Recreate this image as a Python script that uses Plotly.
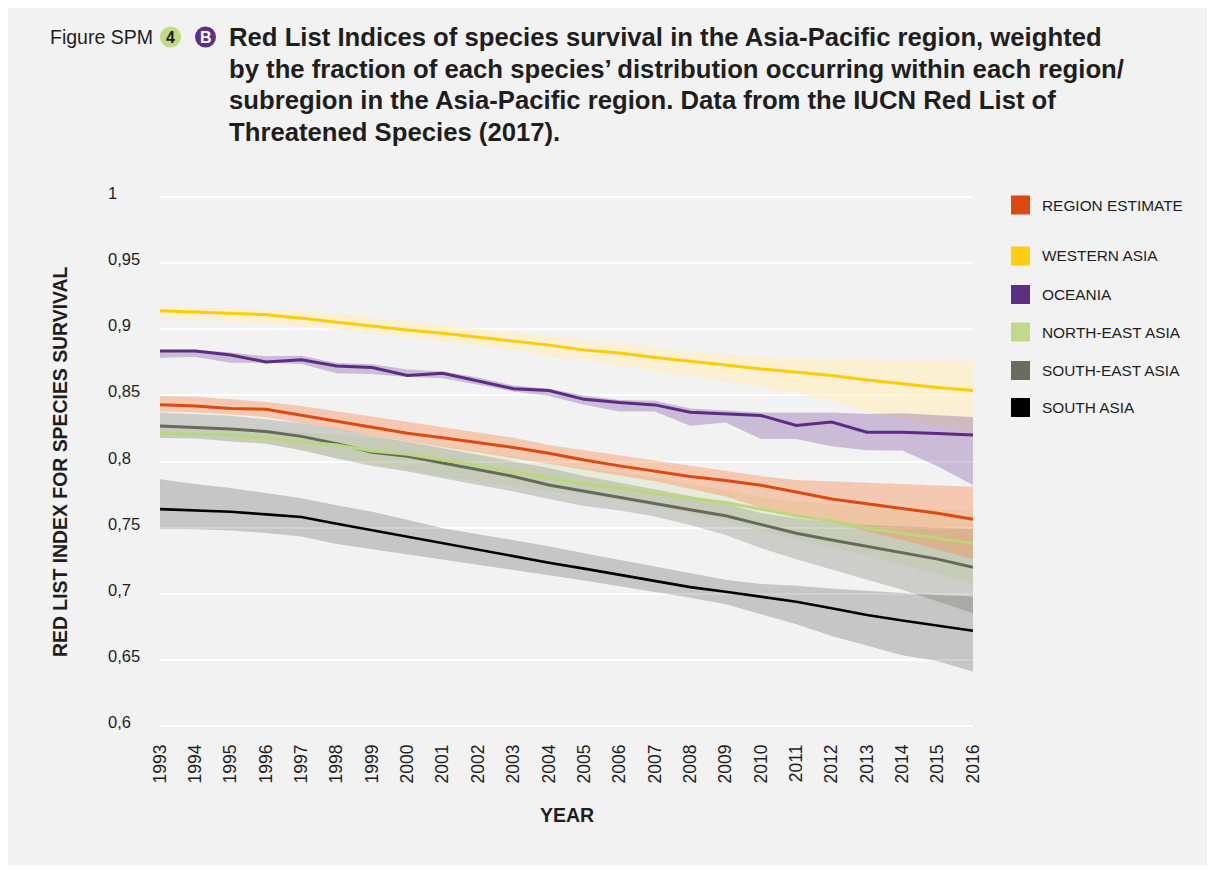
import plotly.graph_objects as go

# ---------------- data ----------------
years = list(range(1993, 2017))
year_labels = [str(y) for y in years]

y_tick_vals = [0.6, 0.65, 0.7, 0.75, 0.8, 0.85, 0.9, 0.95, 1.0]
y_tick_text = ["0,6", "0,65", "0,7", "0,75", "0,8", "0,85", "0,9", "0,95", "1"]

region = [0.843, 0.842, 0.840, 0.8395, 0.835, 0.8305, 0.8258, 0.8214, 0.818, 0.8144, 0.8106, 0.8063,
          0.8012, 0.7967, 0.7925, 0.7887, 0.7857, 0.782, 0.777, 0.7717, 0.768, 0.7646, 0.7608, 0.7563]
region_hi = [0.8496, 0.849, 0.847, 0.845, 0.842, 0.838, 0.834, 0.8295, 0.826, 0.822, 0.818, 0.8125,
             0.8085, 0.805, 0.801, 0.797, 0.793, 0.789, 0.786, 0.785, 0.784, 0.783, 0.782, 0.781]
region_lo = [0.8378, 0.837, 0.8355, 0.8335, 0.829, 0.8245, 0.8195, 0.815, 0.811, 0.807, 0.8025, 0.798,
             0.794, 0.7895, 0.785, 0.779, 0.7735, 0.765, 0.760, 0.7545, 0.747, 0.7407, 0.7331, 0.726]

western = [0.914, 0.913, 0.912, 0.911, 0.9083, 0.9053, 0.9025, 0.8995, 0.897, 0.894, 0.891, 0.888,
           0.8843, 0.882, 0.8787, 0.8756, 0.873, 0.870, 0.8673, 0.865, 0.8617, 0.8586, 0.856, 0.8536]
western_hi = [0.917, 0.9165, 0.916, 0.915, 0.914, 0.912, 0.909, 0.906, 0.903, 0.900, 0.8975, 0.895,
              0.892, 0.889, 0.886, 0.883, 0.881, 0.879, 0.878, 0.877, 0.8765, 0.876, 0.876, 0.8756]
western_lo = [0.9075, 0.907, 0.906, 0.9045, 0.9025, 0.900, 0.897, 0.894, 0.891, 0.8875, 0.884, 0.880,
              0.876, 0.8725, 0.869, 0.865, 0.8605, 0.8565, 0.852, 0.8455, 0.838, 0.8325, 0.827, 0.8214]

oceania = [0.8836, 0.8836, 0.8806, 0.8753, 0.877, 0.8722, 0.871, 0.865, 0.8667, 0.861, 0.855, 0.8536,
           0.847, 0.8446, 0.8428, 0.8373, 0.836, 0.8348, 0.8273, 0.8298, 0.8222, 0.8222, 0.8212, 0.820]
oceania_hi = [0.8845, 0.8845, 0.8825, 0.8795, 0.880, 0.8745, 0.8735, 0.8695, 0.868, 0.8635, 0.8575, 0.855,
              0.850, 0.8465, 0.846, 0.840, 0.8385, 0.837, 0.837, 0.837, 0.836, 0.8365, 0.835, 0.8336]
oceania_lo = [0.8785, 0.879, 0.8747, 0.8747, 0.8737, 0.8667, 0.8662, 0.8638, 0.863, 0.858, 0.853, 0.8496,
              0.843, 0.8378, 0.8378, 0.827, 0.8295, 0.817, 0.817, 0.8115, 0.8085, 0.8084, 0.7965, 0.7823]

ne_asia = [0.8214, 0.8208, 0.820, 0.8176, 0.815, 0.8125, 0.808, 0.8055, 0.8012, 0.797, 0.792, 0.7873,
           0.783, 0.7798, 0.776, 0.7722, 0.769, 0.764, 0.759, 0.755, 0.7495, 0.7458, 0.742, 0.7382]
ne_asia_hi = [0.8265, 0.826, 0.825, 0.8235, 0.822, 0.8205, 0.818, 0.815, 0.812, 0.808, 0.804, 0.7985,
              0.795, 0.7915, 0.788, 0.783, 0.778, 0.7735, 0.770, 0.768, 0.766, 0.765, 0.764, 0.763]
ne_asia_lo = [0.818, 0.8176, 0.8155, 0.8135, 0.8085, 0.8025, 0.7975, 0.7935, 0.789, 0.785, 0.781, 0.7775,
              0.775, 0.771, 0.7665, 0.761, 0.755, 0.7475, 0.741, 0.735, 0.7286, 0.722, 0.715, 0.708]

se_asia = [0.8269, 0.8257, 0.8245, 0.8227, 0.819, 0.8135, 0.807, 0.804, 0.7988, 0.7936, 0.7887, 0.7823,
           0.7775, 0.773, 0.768, 0.7635, 0.759, 0.7525, 0.7458, 0.7407, 0.7357, 0.7312, 0.7262, 0.720]
se_asia_hi = [0.837, 0.836, 0.8345, 0.832, 0.829, 0.825, 0.8195, 0.815, 0.810, 0.805, 0.800, 0.795,
              0.789, 0.784, 0.779, 0.774, 0.768, 0.761, 0.757, 0.754, 0.752, 0.751, 0.750, 0.749]
se_asia_lo = [0.8178, 0.8174, 0.8152, 0.8135, 0.8085, 0.8022, 0.7966, 0.7924, 0.7873, 0.7823, 0.7773, 0.7717,
              0.7664, 0.763, 0.7584, 0.752, 0.7445, 0.7345, 0.726, 0.7183, 0.7105, 0.703, 0.694, 0.6852]

south_asia = [0.764, 0.763, 0.762, 0.760, 0.758, 0.753, 0.748, 0.743, 0.738, 0.733, 0.728, 0.7235,
              0.719, 0.7145, 0.7095, 0.705, 0.7015, 0.698, 0.694, 0.689, 0.684, 0.6798, 0.676, 0.672]
south_asia_hi = [0.7866, 0.783, 0.780, 0.776, 0.7722, 0.767, 0.762, 0.756, 0.7495, 0.745, 0.7407, 0.736,
                 0.7306, 0.7256, 0.7206, 0.7156, 0.7105, 0.7074, 0.706, 0.704, 0.702, 0.7005, 0.699, 0.698]
south_asia_lo = [0.749, 0.7488, 0.7478, 0.746, 0.7433, 0.7377, 0.7337, 0.730, 0.726, 0.722, 0.718, 0.714,
                 0.710, 0.706, 0.7015, 0.697, 0.692, 0.6845, 0.677, 0.668, 0.661, 0.6535, 0.649, 0.641]

legend_names = ["REGION ESTIMATE", "WESTERN ASIA", "OCEANIA", "NORTH-EAST ASIA", "SOUTH-EAST ASIA", "SOUTH ASIA"]

title_lines = [
    "Red List Indices of species survival in the Asia-Pacific region, weighted",
    "by the fraction of each species\u2019 distribution occurring within each region/",
    "subregion in the Asia-Pacific region. Data from the IUCN Red List of",
    "Threatened Species (2017).",
]

# ---------------- styling ----------------
FONT = "Liberation Sans, Arial, Helvetica, sans-serif"
TXT = "#1e1e1e"
BG = "#f2f2f2"

line_col = {
    "REGION ESTIMATE": "#dc4a10",
    "WESTERN ASIA": "#ffcc00",
    "OCEANIA": "#5b2c83",
    "NORTH-EAST ASIA": "#bcd67c",
    "SOUTH-EAST ASIA": "#666a5b",
    "SOUTH ASIA": "#000000",
}
swatch_col = {
    "REGION ESTIMATE": "#dc4a10",
    "WESTERN ASIA": "#ffcf0f",
    "OCEANIA": "#5d2f80",
    "NORTH-EAST ASIA": "#c3d98a",
    "SOUTH-EAST ASIA": "#6a6d5e",
    "SOUTH ASIA": "#000000",
}
band_col = {
    "SOUTH ASIA": "rgba(0,0,0,0.18)",
    "SOUTH-EAST ASIA": "rgba(60,62,45,0.20)",
    "NORTH-EAST ASIA": "rgba(150,200,60,0.12)",
    "OCEANIA": "rgba(110,60,150,0.30)",
    "WESTERN ASIA": "rgba(255,240,192,0.65)",
    "REGION ESTIMATE": "rgba(250,140,80,0.40)",
}

series = {
    "REGION ESTIMATE": (region, region_hi, region_lo),
    "WESTERN ASIA": (western, western_hi, western_lo),
    "OCEANIA": (oceania, oceania_hi, oceania_lo),
    "NORTH-EAST ASIA": (ne_asia, ne_asia_hi, ne_asia_lo),
    "SOUTH-EAST ASIA": (se_asia, se_asia_hi, se_asia_lo),
    "SOUTH ASIA": (south_asia, south_asia_hi, south_asia_lo),
}

fig = go.Figure()

band_order = ["SOUTH ASIA", "SOUTH-EAST ASIA", "NORTH-EAST ASIA", "WESTERN ASIA", "OCEANIA", "REGION ESTIMATE"]
for name in band_order:
    mid, hi, lo = series[name]
    fig.add_trace(go.Scatter(
        x=years + years[::-1], y=hi + lo[::-1], fill="toself",
        fillcolor=band_col[name], line=dict(width=0), mode="lines",
        hoverinfo="skip", showlegend=False))

line_order = ["SOUTH ASIA", "SOUTH-EAST ASIA", "NORTH-EAST ASIA", "REGION ESTIMATE", "OCEANIA", "WESTERN ASIA"]
for name in line_order:
    mid, hi, lo = series[name]
    fig.add_trace(go.Scatter(
        x=years, y=mid, mode="lines", name=name,
        line=dict(color=line_col[name], width=3 if name != "SOUTH ASIA" else 2.6),
        showlegend=False))

# page is rendered with an 8px body margin: figure occupies page px 8..1207 x 8..865
OFF = 8
W, H = 1199, 857
# data mapping in page pixels: y=1 -> 197, y=0.6 -> 726 ; x: 1993 -> 160, 2016 -> 973
L, R = 160, 973
PAD = 3  # extra pixels above/below so the 0.6 and 1 gridlines are drawn
T, B = 197 - PAD, 726 + PAD
per_px = 0.4 / 529
y_range = [0.6 - PAD * per_px, 1.0 + PAD * per_px]


def px(x):
    return (x - L) / (R - L)


def py(y):
    return (B - y) / (B - T)


shapes = []
annotations = []

# y tick labels, left aligned
for v, t in zip(y_tick_vals, y_tick_text):
    annotations.append(dict(x=px(106), y=v, xref="paper", yref="y", text=t, showarrow=False,
                            xanchor="left", yanchor="middle", yshift=4,
                            font=dict(family=FONT, size=16.5, color=TXT)))

# axis titles
annotations.append(dict(x=px(567), y=py(815), xref="paper", yref="paper", text="<b>YEAR</b>",
                        showarrow=False, xanchor="center", yanchor="middle",
                        font=dict(family=FONT, size=19.5, color=TXT)))
annotations.append(dict(x=px(60), y=py(462), xref="paper", yref="paper",
                        text="<b>RED LIST INDEX FOR SPECIES SURVIVAL</b>", textangle=-90,
                        showarrow=False, xanchor="center", yanchor="middle",
                        font=dict(family=FONT, size=19.4, color=TXT)))

# title block
annotations.append(dict(x=px(48), y=py(37), xref="paper", yref="paper", text="Figure SPM",
                        showarrow=False, xanchor="left", yanchor="middle",
                        font=dict(family=FONT, size=19.5, color=TXT)))
shapes.append(dict(type="circle", xref="paper", yref="paper", x0=px(160), x1=px(181), y0=py(47.5), y1=py(26.5),
                   fillcolor="#c3da84", line=dict(width=0)))
shapes.append(dict(type="circle", xref="paper", yref="paper", x0=px(195), x1=px(216), y0=py(47.5), y1=py(26.5),
                   fillcolor="#5e2f86", line=dict(width=0)))
annotations.append(dict(x=px(170.5), y=py(37), xref="paper", yref="paper", text="<b>4</b>",
                        showarrow=False, xanchor="center", yanchor="middle",
                        font=dict(family=FONT, size=16, color="#1e1e1e")))
annotations.append(dict(x=px(205.5), y=py(37), xref="paper", yref="paper", text="<b>B</b>",
                        showarrow=False, xanchor="center", yanchor="middle",
                        font=dict(family=FONT, size=16, color="#ffffff")))
for i, line in enumerate(title_lines):
    annotations.append(dict(x=px(227), y=py(37 + i * 31.7), xref="paper", yref="paper",
                            text="<b>" + line + "</b>", showarrow=False, xanchor="left", yanchor="middle",
                            font=dict(family=FONT, size=25.7, color=TXT)))

# legend
legend_y = [205, 256, 294.5, 332, 370.5, 407.5]
for name, yc in zip(legend_names, legend_y):
    shapes.append(dict(type="rect", xref="paper", yref="paper", x0=px(1011), x1=px(1030),
                       y0=py(yc + 9.5), y1=py(yc - 9.5), fillcolor=swatch_col[name], line=dict(width=0)))
    annotations.append(dict(x=px(1040), y=py(yc), xref="paper", yref="paper", text=name,
                            showarrow=False, xanchor="left", yanchor="middle",
                            font=dict(family=FONT, size=15.4, color=TXT)))

fig.update_layout(
    width=W, height=H,
    margin=dict(l=L - OFF, r=W - (R - OFF), t=T - OFF, b=H - (B - OFF), pad=0),
    paper_bgcolor=BG,
    plot_bgcolor=BG,
    showlegend=False,
    shapes=shapes,
    annotations=annotations,
    font=dict(family=FONT, size=15, color=TXT),
)
fig.update_xaxes(range=[1993, 2016], tickvals=years, ticktext=year_labels, tickangle=-90,
                 showgrid=False, zeroline=False, showline=False, ticks="", ticklabelstandoff=11,
                 tickfont=dict(family=FONT, size=17.5, color=TXT))
fig.update_yaxes(range=y_range, tickvals=y_tick_vals, showticklabels=False,
                 showgrid=True, gridcolor="#ffffff", gridwidth=2, zeroline=False, showline=False, ticks="")

fig.write_html("out.html")
